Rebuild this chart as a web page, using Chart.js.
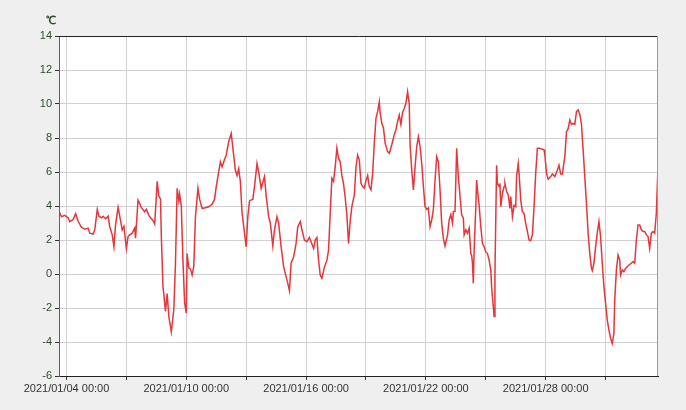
<!DOCTYPE html>
<html lang="ja">
<head>
    <meta charset="UTF-8">
    <title>気温推移</title>
    <style>
        html, body {
            margin: 0;
            padding: 0;
            background-color: #efefef;
            overflow: hidden;
        }
        .wrap {
            width: 686px;
            height: 410px;
            position: relative;
        }
    </style>
    <script src="https://cdn.jsdelivr.net/npm/chart.js"></script>
</head>
<body>
<div class="wrap">
    <canvas id="tempChart" width="686" height="410"></canvas>
</div>

<script>
    // hours since 2021/01/04 00:00, and temperature in ℃
    const hours = [-9, -6, -2, 2, 4, 8, 11, 14, 18, 22, 26, 28, 32, 34, 37, 39, 42, 44, 47, 50,
        52, 55, 57, 59, 62, 64, 67, 69, 72, 74, 76, 79, 82, 83, 86, 88, 90, 94, 96, 99,
        102, 104, 106, 108, 109, 111, 113, 114, 116, 117, 119, 121, 123, 126, 129, 131, 133, 135, 136, 138,
        140, 142, 144, 145, 147, 149, 151, 153, 155, 158, 160, 163, 167, 171, 175, 178, 180, 182, 185, 187,
        189, 192, 195, 198, 200, 203, 205, 207, 209, 211, 214, 216, 218, 220, 224, 226, 229, 231, 234, 236,
        238, 240, 243, 245, 248, 250, 253, 255, 258, 261, 263, 266, 268, 270, 273, 276, 278, 281, 283, 286,
        289, 292, 294, 297, 299, 301, 303, 305, 307, 310, 313, 315, 317, 319, 321, 323, 325, 327, 329, 331,
        333, 335, 337, 339, 341, 343, 346, 348, 350, 352, 354, 356, 358, 360, 362, 364, 366, 368, 370, 372,
        374, 376, 377, 379, 381, 383, 386, 388, 391, 394, 396, 398, 400, 402, 404, 406, 408, 410, 412, 413,
        415, 417, 419, 421, 423, 425, 427, 429, 431, 433, 435, 437, 439, 441, 443, 445, 447, 449, 451, 453,
        455, 458, 460, 462, 464, 465, 467, 469, 471, 473, 475, 477, 478, 480, 482, 484, 486, 487, 488, 489,
        490, 492, 493, 494, 496, 498, 500, 502, 504, 506, 508, 510, 511, 513, 514, 515, 517, 518, 520, 521,
        522, 524, 526, 527, 529, 531, 533, 534, 536, 538, 540, 541, 543, 544, 546, 548, 550, 552, 554, 556,
        558, 560, 562, 564, 566, 568, 571, 574, 575, 577, 579, 582, 584, 587, 590, 592, 594, 596, 599, 601,
        603, 605, 607, 609, 611, 613, 615, 617, 619, 621, 623, 625, 627, 629, 631, 632, 634, 636, 638, 640,
        642, 644, 646, 648, 650, 652, 654, 656, 658, 659, 661, 663, 665, 666, 668, 670, 672, 674, 676, 679,
        681, 683, 685, 687, 689, 691, 693, 695, 697, 699, 701, 703, 705, 707, 709, 711];
    const temps = [3.7, 3.37, 3.45, 3.3, 3.08, 3.2, 3.55, 3.1, 2.75, 2.63, 2.7, 2.4, 2.35, 2.6, 3.8, 3.4, 3.3, 3.4, 3.25, 3.4,
        2.78, 2.3, 1.6, 2.9, 3.92, 3.4, 2.6, 2.8, 1.5, 2.2, 2.3, 2.4, 2.7, 2.1, 4.35, 4.15, 3.9, 3.66, 3.8, 3.45,
        3.25, 3.15, 2.94, 4.55, 5.45, 4.6, 4.4, 2.2, -0.75, -1.2, -2.2, -1.15, -2.5, -3.4, -2.1, 0.63, 5.04, 4.3, 4.7, 4.0,
        0.8, -1.7, -2.3, 1.2, 0.35, 0.3, -0.06, 0.43, 3.37, 5.04, 4.4, 3.86, 3.9, 3.95, 4.1, 4.4, 5.14, 5.73, 6.6, 6.3,
        6.6, 7.0, 7.78, 8.27, 7.4, 6.1, 5.8, 6.2, 5.43, 3.6, 2.4, 1.6, 3.4, 4.3, 4.4, 5.14, 6.5, 6.0, 5.04, 5.4,
        5.73, 4.6, 3.37, 3.0, 1.65, 2.6, 3.37, 3.0, 1.6, 0.43, 0.04, -0.55, -0.98, 0.63, 1.0, 1.8, 2.78, 3.08, 2.6, 2.0,
        1.9, 2.15, 1.9, 1.5, 2.0, 2.15, 0.82, -0.06, -0.25, 0.4, 0.8, 1.4, 3.57, 5.63, 5.45, 6.3, 7.4, 6.8, 6.6, 5.8,
        5.3, 4.5, 3.5, 1.8, 3.1, 3.96, 4.65, 6.3, 7.0, 6.7, 5.33, 5.14, 5.05, 5.5, 5.8, 5.14, 4.95, 5.9, 7.7, 9.16,
        9.55, 10.14, 9.5, 8.86, 8.6, 7.7, 7.2, 7.1, 7.6, 8.18, 8.5, 8.96, 9.35, 8.8, 9.5, 9.75, 10.04, 10.72, 10.0, 7.6,
        6.1, 4.94, 6.3, 7.5, 8.08, 7.5, 6.5, 5.14, 3.96, 3.8, 3.88, 2.78, 3.18, 3.8, 5.53, 6.9, 6.6, 4.95, 2.98, 2.1,
        1.65, 2.3, 3.18, 3.5, 3.0, 3.67, 3.67, 7.4, 5.73, 4.6, 3.47, 3.3, 2.3, 2.6, 2.4, 2.7, 1.2, 1.1, 0.63, -0.55,
        1.4, 3.96, 5.53, 4.95, 4.04, 2.78, 1.8, 1.6, 1.3, 1.2, 0.82, 0.24, -0.75, -1.92, -2.5, 0.0, 6.4, 5.33, 5.14, 5.33,
        3.96, 4.75, 5.14, 5.33, 4.85, 4.65, 3.86, 4.55, 3.37, 4.04, 3.96, 5.73, 6.5, 5.92, 4.35, 3.67, 3.57, 2.98, 2.5, 2.0,
        1.96, 2.3, 3.96, 5.92, 7.4, 7.4, 7.35, 7.3, 7.0, 5.92, 5.57, 5.73, 5.88, 5.73, 6.1, 6.4, 5.88, 5.88, 6.9, 8.37,
        8.55, 9.06, 8.8, 8.86, 8.8, 9.55, 9.65, 9.4, 8.8, 7.3, 5.73, 4.16, 2.4, 1.2, 0.33, 0.2, 0.63, 1.6, 2.4, 3.08,
        2.2, 0.63, -0.75, -1.73, -2.7, -3.3, -3.78, -4.08, -3.5, -1.53, 0.24, 1.12, 0.82, -0.06, 0.24, 0.14, 0.33, 0.43, 0.53, 0.63,
        0.73, 0.63, 2.0, 2.88, 2.88, 2.6, 2.5, 2.5, 2.3, 2.2, 1.5, 2.4, 2.5, 2.4, 3.57, 6.3];

    const xTicks = [0, 72, 144, 216, 288, 360, 432, 504, 576, 648];
    const labelEvery = 144;
    const yMin = -6, yMax = 14, yStep = 2;

    function fmtHour(h) {
        const d = new Date(2021, 0, 4, 0, 0);
        d.setHours(d.getHours() + h);
        const p = n => String(n).padStart(2, '0');
        return d.getFullYear() + '/' + p(d.getMonth() + 1) + '/' + p(d.getDate()) + ' ' +
            p(d.getHours()) + ':' + p(d.getMinutes());
    }

    // white plot area + top/right frame + unit label
    const framePlugin = {
        id: 'frame',
        beforeDraw(chart) {
            const { ctx, chartArea: a } = chart;
            ctx.save();
            ctx.fillStyle = '#ffffff';
            ctx.fillRect(a.left, a.top, a.right - a.left, a.bottom - a.top);
            ctx.restore();
        },
        afterDraw(chart) {
            const { ctx, chartArea: a } = chart;
            ctx.save();
            ctx.lineWidth = 1;
            ctx.strokeStyle = '#222222';
            ctx.beginPath();
            ctx.moveTo(a.left, a.top + 0.5);
            ctx.lineTo(a.right, a.top + 0.5);
            ctx.stroke();
            ctx.strokeStyle = '#9a9a9a';
            ctx.beginPath();
            ctx.moveTo(a.right - 0.5, a.top);
            ctx.lineTo(a.right - 0.5, a.bottom);
            ctx.stroke();
            ctx.fillStyle = '#2f4a2f';
            ctx.font = 'bold 11px "Liberation Sans", Arial, sans-serif';
            ctx.textAlign = 'center';
            ctx.textBaseline = 'middle';
            ctx.fillText('℃', 51, 21);
            ctx.restore();
        }
    };

    const ctx = document.getElementById('tempChart').getContext('2d');
    new Chart(ctx, {
        type: 'line',
        data: {
            datasets: [{
                data: hours.map((h, i) => ({ x: h, y: temps[i] })),
                borderColor: '#e4363b',
                borderWidth: 1.5,
                pointRadius: 0,
                tension: 0,
                fill: false
            }]
        },
        options: {
            responsive: false,
            animation: false,
            events: [],
            layout: { padding: { left: 0, right: 28, top: 36, bottom: 0 } },
            plugins: {
                legend: { display: false },
                tooltip: { enabled: false }
            },
            scales: {
                x: {
                    type: 'linear',
                    min: -9,
                    max: 711,
                    afterBuildTicks: s => { s.ticks = xTicks.map(v => ({ value: v })); },
                    afterFit: s => { s.height = 34; },
                    grid: {
                        color: '#d0d0d0',
                        lineWidth: 1,
                        tickColor: '#333333',
                        tickLength: 4
                    },
                    border: { color: '#222222', width: 1 },
                    ticks: {
                        autoSkip: false,
                        maxRotation: 0,
                        padding: 2,
                        color: '#333333',
                        font: { family: '"Liberation Sans", Arial, sans-serif', size: 11 },
                        callback: v => (v % labelEvery === 0 ? fmtHour(v) : '')
                    }
                },
                y: {
                    min: yMin,
                    max: yMax,
                    afterFit: s => { s.width = 59; },
                    grid: {
                        color: '#d0d0d0',
                        lineWidth: 1,
                        tickColor: '#333333',
                        tickLength: 4
                    },
                    border: { color: '#4f6a4f', width: 1 },
                    ticks: {
                        stepSize: yStep,
                        padding: 3,
                        color: '#2f4a2f',
                        font: { family: '"Liberation Sans", Arial, sans-serif', size: 11 }
                    }
                }
            }
        },
        plugins: [framePlugin]
    });
</script>
</body>
</html>
